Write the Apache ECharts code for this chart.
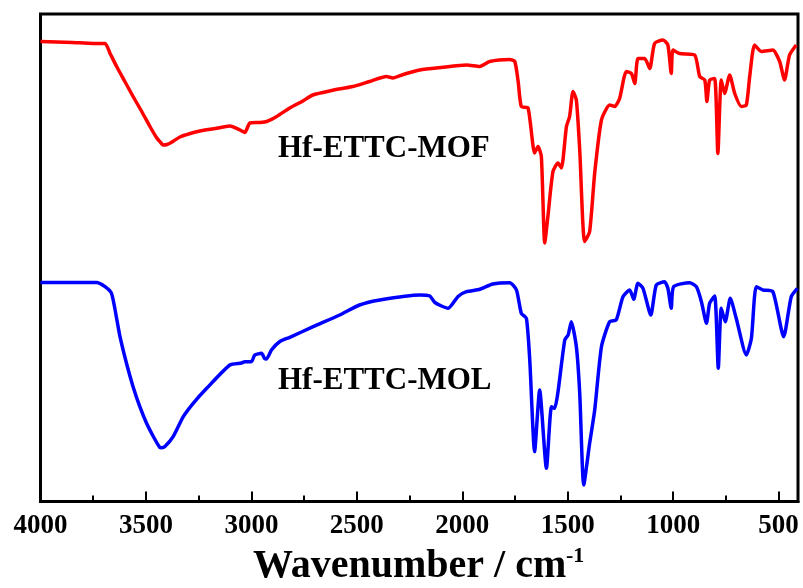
<!DOCTYPE html>
<html>
<head>
<meta charset="utf-8">
<script src="https://cdn.jsdelivr.net/npm/echarts@6/dist/echarts.min.js"></script>
<style>html,body{margin:0;padding:0;background:#fff}#c{width:803px;height:588px}</style>
</head>
<body>
<div id="c"></div>
<script>
// Wavenumber (cm^-1) and transmittance (arbitrary units)
var mofWave = [4000,3850,3750,3694,3670,3639,3600,3561,3520,3481,3450,3430,3419,3400,3380,3339,3290,3244,3170,3102,3054,3031,3007,2960,2927,2880,2818,2760,2709,2620,2519,2440,2360,2329,2280,2201,2100,1979,1917,1870,1775,1751,1735,1720,1688,1657,1641,1625,1609,1594,1570,1546,1530,1506,1491,1475,1459,1443,1420,1396,1372,1340,1301,1277,1254,1222,1198,1182,1167,1135,1111,1088,1048,1025,1009,1001,969,898,874,850,840,827,803,788,772,756,732,708,677,653,637,614,582,527,495,472,448,416];
var mofTrans = [460,459,458,458,448,435,420,405,390,375,364,359,356.5,357,359,364.5,368,370.5,373,375.5,371.5,369,378.5,379,380,385,393.5,400,406.5,411,415,420,425,423.5,427,431.5,434,436.5,435,440,442,440,420,395,393.5,348.5,355,345,258.5,285,330,338.5,333.5,375,385,410,401.5,351.5,260,270,328.5,381.5,396.5,395,403,430,428,418,443,443,433,458,461.5,456.5,428,451.5,448,446.5,425,421.5,400,421.5,423,348,421.5,408,426.5,408,395,396.5,425,456.5,450,451.5,440,421.5,446.5,456.5];

var molWave = [4000,3734,3694,3663,3639,3623,3592,3561,3529,3497,3465,3434,3426,3410,3371,3323,3276,3212,3102,3047,3031,3000,2984,2952,2937,2928,2905,2865,2818,2707,2581,2487,2391,2201,2154,2130,2067,2020,1980,1917,1855,1775,1743,1720,1696,1680,1657,1633,1601,1577,1562,1546,1514,1498,1483,1459,1443,1424,1396,1372,1340,1301,1270,1238,1206,1187,1167,1143,1106,1080,1041,1025,1009,998,922,890,866,842,827,803,786,772,753,729,701,653,629,606,574,527,476,440,411];
var molTrans = [219,219,214.8,208,183,164.8,138,114.8,94.8,78.2,65,54,53.8,55,64.8,84.8,98.2,113.2,136.5,138.5,139.8,139.8,146.5,148.2,143,142.5,151.5,160,164.2,174.8,186.5,196.5,201.5,206.5,205.5,199,193.2,205,209.8,212.2,217.5,218.8,211.5,188.2,183.2,141.5,49.8,111.5,33.2,94.8,93.2,109.8,161.5,166.5,179.8,154.8,108.2,16.5,58.2,91.5,154.8,179.8,181.5,204.8,211.5,202.2,218.2,213.2,186.5,216.5,219.8,213.2,193.2,214.8,218.8,214.8,199.8,178.2,198.2,205.5,133.2,193.2,179.8,203.2,183.2,146.5,163.2,214.8,211.5,209.8,164.8,204.8,213.2];

var majorTicks = [4000,3500,3000,2500,2000,1500,1000,500];
var minorTicks = [3750,3250,2750,2250,1750,1250,750];
var tickLabels = ['4000','3500','3000','2500','2000','1500','1000','500'];
var seriesNames = ['Hf-ETTC-MOF','Hf-ETTC-MOL'];
var axisTitle = 'Wavenumber / cm';
var axisTitleSup = '-1';

function pairs(xs, ys){ return xs.map(function(x,i){ return [x, ys[i]]; }); }

var chart = echarts.init(document.getElementById('c'), null, {renderer:'canvas'});
var font = '"Liberation Serif","Times New Roman",serif';
var xMin = 408, xMax = 4000;
chart.setOption({
  animation:false,
  backgroundColor:'#fff',
  grid:{left:40.5,right:5,top:14,bottom:86.5,show:true,borderColor:'#000',borderWidth:3,backgroundColor:'transparent'},
  xAxis:[{
    type:'value', inverse:true, min:xMin, max:xMax, position:'bottom',
    axisLine:{show:true,lineStyle:{color:'#000',width:3}},
    axisTick:{show:true,inside:true,length:10,lineStyle:{color:'#000',width:2},customValues:majorTicks},
    axisLabel:{show:true,margin:11,color:'#000',fontFamily:font,fontWeight:'bold',fontSize:27,customValues:majorTicks,
      formatter:function(v){ var i=majorTicks.indexOf(v); return i>=0?tickLabels[i]:''; }},
    splitLine:{show:false}
  },{
    type:'value', inverse:true, min:xMin, max:xMax, position:'bottom',
    axisLine:{show:false},
    axisTick:{show:true,inside:true,length:6,lineStyle:{color:'#000',width:2},customValues:minorTicks},
    axisLabel:{show:false},
    splitLine:{show:false}
  }],
  yAxis:{type:'value',min:0,max:487.5,axisLine:{show:false},axisTick:{show:false},axisLabel:{show:false},splitLine:{show:false}},
  series:[
    {name:seriesNames[0],type:'line',xAxisIndex:0,data:pairs(mofWave,mofTrans),symbol:'none',smooth:0.2,lineStyle:{color:'#ff0000',width:3.5,join:'round'},itemStyle:{color:'#ff0000'}},
    {name:seriesNames[1],type:'line',xAxisIndex:0,data:pairs(molWave,molTrans),symbol:'none',smooth:0.2,lineStyle:{color:'#0000ff',width:3.5,join:'round'},itemStyle:{color:'#0000ff'}}
  ],
  graphic:[
    {type:'text',left:278,top:133,style:{text:seriesNames[0],font:'bold 31px '+font,fill:'#000'}},
    {type:'text',left:278,top:365,style:{text:seriesNames[1],font:'bold 31px '+font,fill:'#000'}},
    {type:'text',left:253,top:547,style:{text:axisTitle,font:'bold 40px '+font,fill:'#000'}},
    {type:'text',left:566,top:545,style:{text:axisTitleSup,font:'bold 22px '+font,fill:'#000'}}
  ]
});
</script>
</body>
</html>
